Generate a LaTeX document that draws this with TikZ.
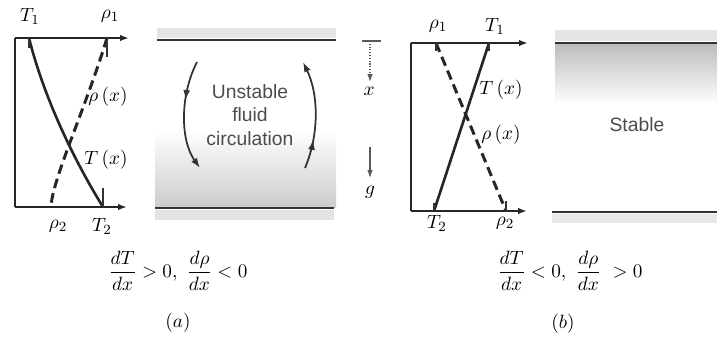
\documentclass[tikz,border=0pt]{standalone}
\usepackage{amsmath,amssymb}
\usepackage{fontspec}
\newfontfamily\fluidfont{Liberation Sans}
\usepackage{tikz}
\usetikzlibrary{arrows.meta,positioning,decorations.markings}

\tikzset{
  axisline/.style={line width=1.1pt,black!85,-{Latex[length=1.8mm,width=1.3mm]}},
  wallline/.style={line width=1.1pt,black!85},
  profT/.style={line width=1.5pt,black!85},
  profrho/.style={line width=1.7pt,black!85,dash pattern=on 5.5pt off 3pt},
  endtick/.style={line width=0.7pt,black!80},
  plate/.style={line width=1.1pt,black!80},
  lbl/.style={font=\fontsize{11}{13}\selectfont},
  fluidtext/.style={font=\fluidfont\fontsize{11}{13.5}\selectfont,text=black!70,align=center},
  circarrow/.style={line width=1pt,black!80,-{Latex[length=2mm,width=1.4mm]},
    postaction={decorate}},
  gravarrow/.style={line width=0.6pt,black!65,-{Latex[length=1.6mm,width=1.1mm]}}
}

\begin{document}
\begin{tikzpicture}[x=0.02cm,y=-0.02cm]
  \useasboundingbox (0,0) rectangle (717,352);

  % (a) profiles
  \coordinate (atl) at (15,38);  \coordinate (atr) at (129,38);
  \coordinate (abl) at (15,207); \coordinate (abr) at (127,207);
  \draw[wallline] (atl)--(abl);
  \draw[axisline] (atl)--(atr);
  \draw[axisline] (abl)--(abr);
  \draw[profT] (29,38) .. controls (44,98) and (74,160) .. (103,207);
  \draw[profrho] (107,38) .. controls (85,110) and (52,180) .. (51,207);
  \draw[endtick] (29,38)--(29,48);
  \draw[endtick] (107,38)--(107,57);
  \draw[endtick] (103,207)--(103,188);
  \node[lbl] (T1a) at (30,16) {$T_1$};
  \node[lbl] (rho1a) at (110,16) {$\rho_1$};
  \node[lbl] (rhoxa) at (108,97) {$\rho\,(x)$};
  \node[lbl] (Txa) at (106,160) {$T\,(x)$};
  \node[lbl] (rho2a) at (58,226) {$\rho_2$};
  \node[lbl] (T2a) at (102,226) {$T_2$};

  % (a) fluid layer
  \fill[black!10] (157,28) rectangle (336,38);
  \shade[top color=white,bottom color=black!20] (155,130) rectangle (336,207);
  \fill[black!11] (155,210) rectangle (334,220);
  \draw[plate] (157,40)--(336,40);
  \draw[plate] (155,208)--(334,208);
  \node[fluidtext] (unst) at (250,115) {Unstable\\fluid\\circulation};
  \draw[circarrow,decoration={markings,mark=at position 0.36 with {\arrow{Latex[length=2mm,width=1.4mm]}}}]
    (197,62) .. controls (180,95) and (180,140) .. (200,168);
  \draw[circarrow,decoration={markings,mark=at position 0.27 with {\arrow{Latex[length=2mm,width=1.4mm]}}}]
    (305,168) .. controls (319,135) and (319,95) .. (303,62);

  % gravity and depth
  \draw[line width=0.6pt,black!65] (362,41)--(381,41);
  \draw[gravarrow,densely dotted] (370,41)--(370,82);
  \node[lbl] (xax) at (369,91) {$x$};
  \draw[gravarrow] (370,147)--(370,178);
  \node[lbl] (gax) at (370,192) {$g$};

  % (b) profiles
  \coordinate (btl) at (411,43);  \coordinate (btr) at (528,43);
  \coordinate (bbl) at (411,211); \coordinate (bbr) at (527,211);
  \draw[wallline] (btl)--(bbl);
  \draw[axisline] (btl)--(btr);
  \draw[axisline] (bbl)--(bbr);
  \draw[profT] (489,43)--(434,211);
  \draw[profrho] (436,43)--(506,211);
  \draw[endtick] (436,43)--(436,51);
  \draw[endtick] (489,43)--(489,51);
  \draw[endtick] (434,211)--(434,203);
  \draw[endtick] (506,211)--(506,201);
  \node[lbl] (rho1b) at (438,26) {$\rho_1$};
  \node[lbl] (T1b) at (495,26) {$T_1$};
  \node[lbl] (Txb) at (501,90) {$T\,(x)$};
  \node[lbl] (rhoxb) at (501,135) {$\rho\,(x)$};
  \node[lbl] (T2b) at (437,223) {$T_2$};
  \node[lbl] (rho2b) at (505,223) {$\rho_2$};

  % (b) fluid layer
  \fill[black!10] (555,30) rectangle (717,41);
  \shade[top color=black!26,bottom color=white] (555,44) rectangle (717,104);
  \fill[black!9] (552,214) rectangle (717,223);
  \draw[plate] (555,43)--(717,43);
  \draw[plate] (552,212)--(717,212);
  \node[fluidtext] (stab) at (637,125) {Stable};

  % conditions and captions
  \node[lbl] (conda) at (178,271) {$\dfrac{dT}{dx} > 0,\ \dfrac{d\rho}{dx} < 0$};
  \node[lbl] (capa) at (178,323) {$(a)$};
  \node[lbl] (condb) at (570,271) {$\dfrac{dT}{dx} < 0,\ \dfrac{d\rho}{dx} \ > 0$};
  \node[lbl] (capb) at (563,324) {$(b)$};
\end{tikzpicture}
\end{document}
